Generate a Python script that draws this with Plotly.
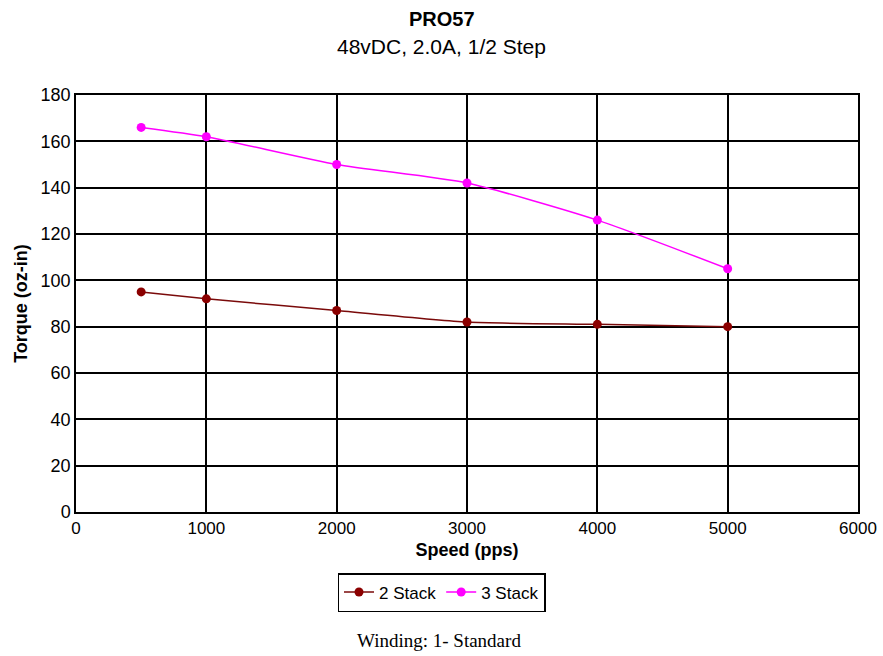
import plotly.graph_objects as go

speed = [500, 1000, 2000, 3000, 4000, 5000]
stack2 = [95, 92, 87, 82, 81, 80]
stack3 = [166, 162, 150, 142, 126, 105]
x_ticks = [0, 1000, 2000, 3000, 4000, 5000, 6000]
y_ticks = [0, 20, 40, 60, 80, 100, 120, 140, 160, 180]

fig = go.Figure()
fig.add_trace(go.Scatter(x=speed, y=stack2, name="2 Stack", mode="lines+markers",
                         line=dict(color="#7a0a0a", width=1.5, shape="spline", smoothing=0.6),
                         marker=dict(color="#8b0000", size=9)))
fig.add_trace(go.Scatter(x=speed, y=stack3, name="3 Stack", mode="lines+markers",
                         line=dict(color="#ff00ff", width=1.5, shape="spline", smoothing=0.6),
                         marker=dict(color="#ff00ff", size=9)))

font_sans = "Liberation Sans, Arial, sans-serif"
L, R, T, B = 76, 25, 95, 144
W, H = 883, 656
plot_top, plot_bottom = T, H - B
h = plot_bottom - plot_top
w = W - L - R

def py(px):
    return (plot_bottom - px) / h

def pxx(px):
    return (px - L) / w

cx = pxx(441.5)

fig.update_layout(
    width=W, height=H,
    margin=dict(l=L, r=R, t=T, b=B, pad=0),
    paper_bgcolor="white", plot_bgcolor="white",
    font=dict(family=font_sans, color="black", size=17),
    showlegend=True,
    legend=dict(orientation="h", x=cx, xanchor="center", y=py(573), yanchor="top",
                bordercolor="black", borderwidth=1.5, font=dict(size=17),
                itemwidth=30, tracegroupgap=0, bgcolor="white"),
    xaxis=dict(range=[0, 6000], tickvals=x_ticks, ticktext=[str(v) for v in x_ticks],
               showgrid=True, gridcolor="black", gridwidth=1.5, automargin=False,
               showline=True, linecolor="black", linewidth=1.5, mirror=True,
               zeroline=False, ticks="", ticklen=0, tickfont=dict(size=17),
               title=dict(text="<b>Speed (pps)</b>", font=dict(size=18), standoff=6)),
    yaxis=dict(range=[0, 180], tickvals=y_ticks, ticktext=[str(v) for v in y_ticks],
               showgrid=True, gridcolor="black", gridwidth=1.5, automargin=False,
               showline=True, linecolor="black", linewidth=1.5, mirror=True,
               zeroline=False, ticks="", ticklen=0, tickfont=dict(size=18),
               title=dict(text="<b>Torque (oz-in)</b>", font=dict(size=18), standoff=8)),
    annotations=[
        dict(text="<b>PRO57</b>", x=cx, xref="paper", y=py(19), yref="paper", showarrow=False,
             xanchor="center", yanchor="middle", font=dict(size=20, family=font_sans)),
        dict(text="48vDC, 2.0A, 1/2 Step", x=cx, xref="paper", y=py(46), yref="paper", showarrow=False,
             xanchor="center", yanchor="middle", font=dict(size=21, family=font_sans)),
        dict(text="Winding: 1- Standard", x=pxx(439), xref="paper", y=py(640), yref="paper", showarrow=False,
             xanchor="center", yanchor="middle",
             font=dict(size=19, family="Liberation Serif, Times New Roman, serif")),
    ],
)

fig.write_html("out.html", config={"displayModeBar": False},
               post_script="document.body.style.margin='0';document.body.style.overflow='hidden';")
